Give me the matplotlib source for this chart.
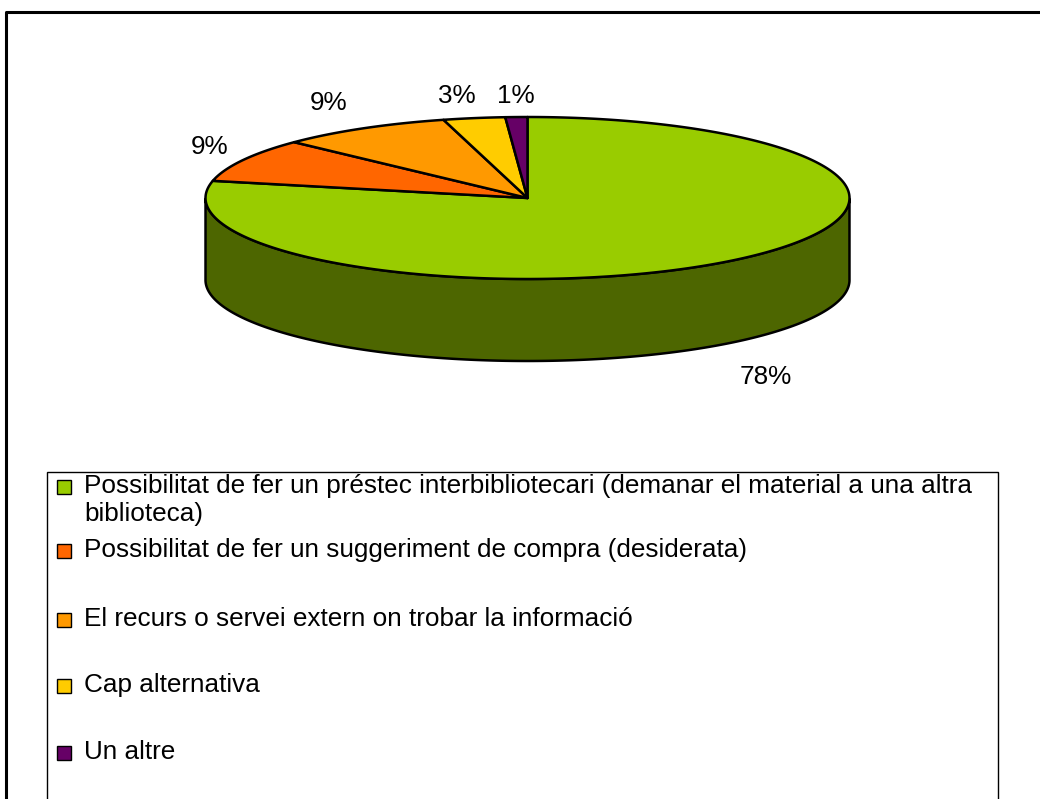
import numpy as np
import matplotlib
matplotlib.use("Agg")
import matplotlib.pyplot as plt
from matplotlib.patches import Polygon, Rectangle

plt.rcParams['font.family'] = ['Liberation Sans', 'DejaVu Sans']

# slice shares (%), clockwise from 12 o'clock
shares = [78.4, 8.7, 8.7, 3.1, 1.1]
pct_labels = ["78%", "9%", "9%", "3%", "1%"]
legend_labels = [
    "Possibilitat de fer un préstec interbibliotecari (demanar el material a una altra\nbiblioteca)",
    "Possibilitat de fer un suggeriment de compra (desiderata)",
    "El recurs o servei extern on trobar la informació",
    "Cap alternativa",
    "Un altre",
]
top_colors = ["#99CC00", "#FF6600", "#FF9900", "#FFCC00", "#660066"]
side_colors = ["#4D6600", "#803300", "#804D00", "#806600", "#330033"]

W, H = 1040, 799
fig = plt.figure(figsize=(W / 100, H / 100), dpi=100)
ax = fig.add_axes([0, 0, 1, 1])
ax.set_xlim(0, W)
ax.set_ylim(H, 0)
ax.axis("off")

# pie geometry in pixels
cx, cy = 527.5, 198
rx, ry = 322, 81
depth = 82

def ell(theta):
    return cx + rx * np.cos(theta), cy - ry * np.sin(theta)

vals = np.array(shares) / sum(shares)
starts = np.pi / 2 - 2 * np.pi * np.concatenate([[0], np.cumsum(vals)[:-1]])
ends = starts - 2 * np.pi * vals

# side walls (front half only)
for s, e, col in zip(starts, ends, side_colors):
    t = np.linspace(s, e, 400)
    front = np.mod(t, 2 * np.pi) > np.pi
    if not front.any():
        continue
    xs, ys = ell(t[front])
    poly = np.vstack([np.column_stack([xs, ys]),
                      np.column_stack([xs[::-1], ys[::-1] + depth])])
    ax.add_patch(Polygon(poly, closed=True, facecolor=col, edgecolor="black",
                         lw=1.8, joinstyle="round", zorder=2))

# top faces
for s, e, col in zip(starts, ends, top_colors):
    t = np.linspace(s, e, 300)
    xs, ys = ell(t)
    poly = np.vstack([[cx, cy], np.column_stack([xs, ys])])
    ax.add_patch(Polygon(poly, closed=True, facecolor=col, edgecolor="black",
                         lw=1.8, joinstyle="round", zorder=3))

# percentage labels
label_pos = [(766, 377), (210, 147), (329, 103), (457, 96), (516, 96)]
for (lx, ly), txt in zip(label_pos, pct_labels):
    ax.text(lx, ly, txt, fontsize=18.8, ha="center", va="center", zorder=4)

# outer chart frame
ax.plot([6, 6, W + 5], [H + 5, 12, 12], color="black", lw=2.2,
        solid_capstyle="butt", zorder=5)

# legend box
ax.add_patch(Rectangle((47, 472), 951, H, facecolor="white", edgecolor="black",
                       lw=1.0, zorder=1))
row_y = [487, 551, 620, 686, 753]
for y, txt, col in zip(row_y, legend_labels, top_colors):
    ax.add_patch(Rectangle((57, y - 7), 14, 14, facecolor=col,
                           edgecolor="black", lw=1.0, zorder=4))
    ax.text(84, y - 13, txt, fontsize=18.8, ha="left", va="top",
            linespacing=1.2, zorder=4)

fig.savefig("out.png", dpi=100)
